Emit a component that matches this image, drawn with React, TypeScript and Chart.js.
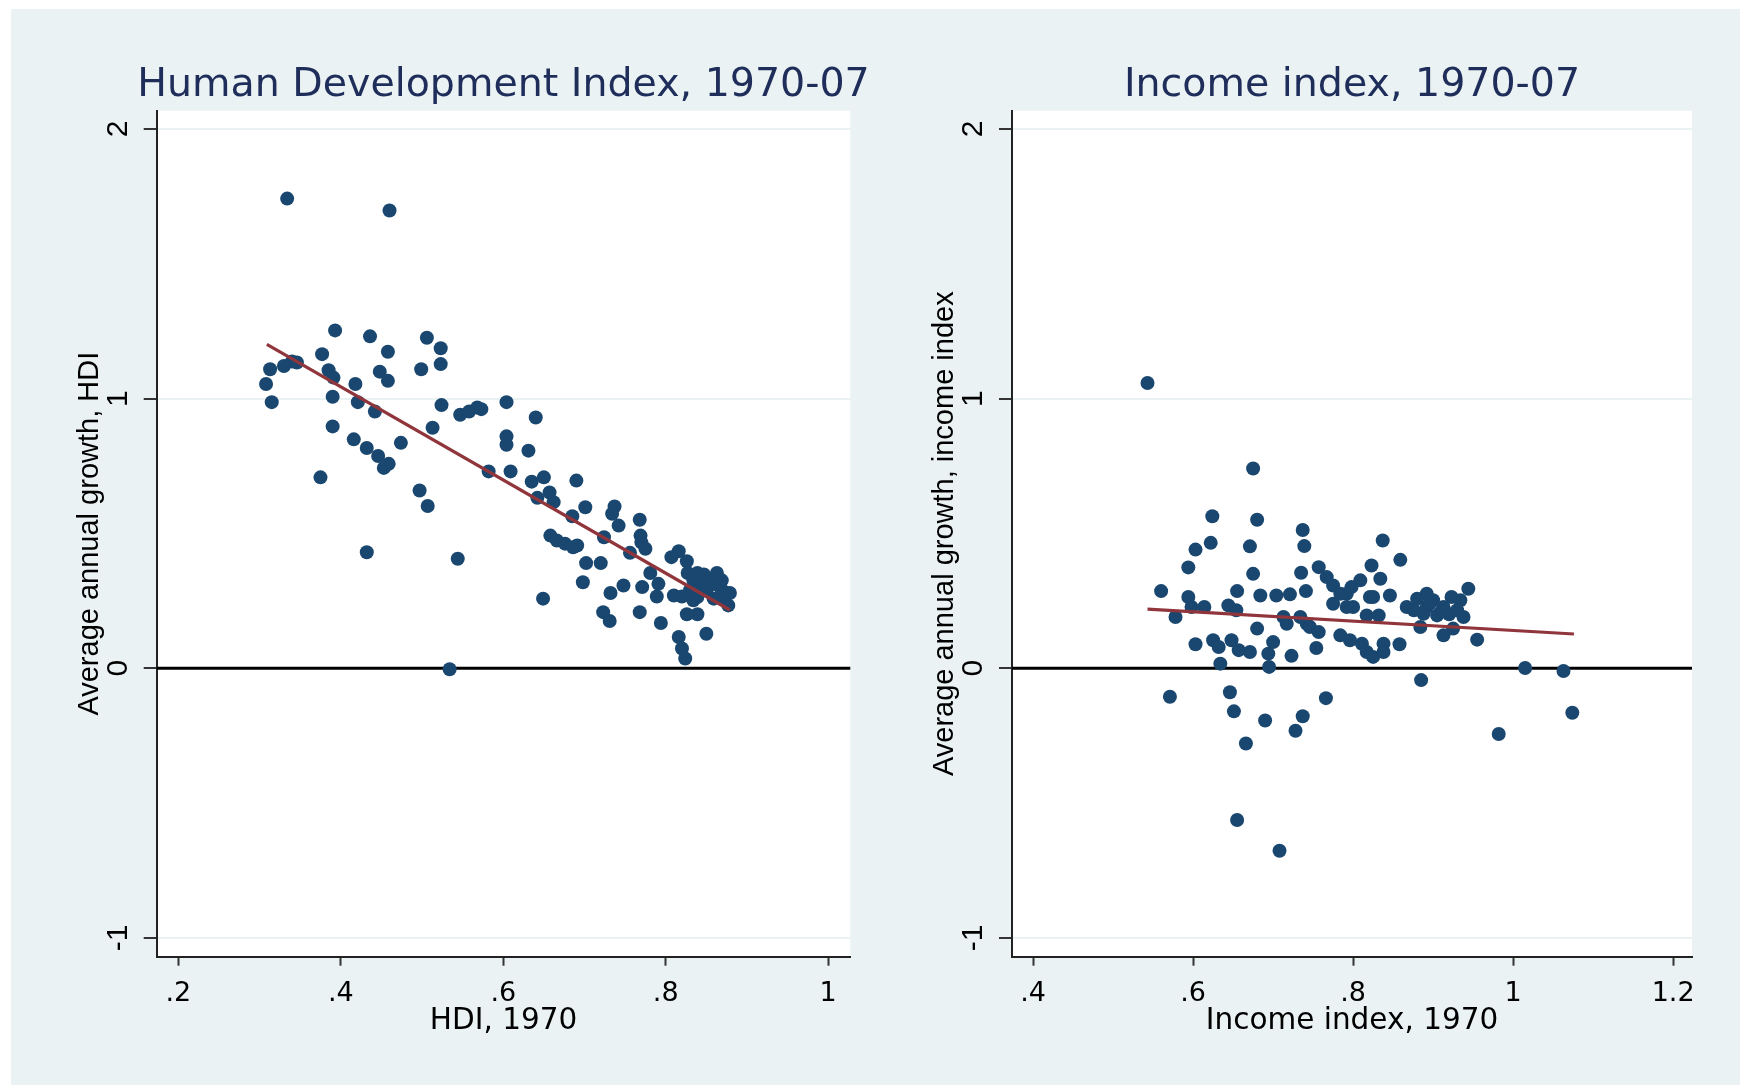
import React, { useEffect, useRef } from "react";
import { Chart, registerables } from "chart.js";

Chart.register(...registerables);

// ---- Left panel: HDI ----
const hdi1970 = [
  0.334, 0.46, 0.393, 0.436, 0.506, 0.523, 0.458, 0.377, 0.313, 0.33, 0.346, 0.34, 0.385, 0.391, 0.448, 0.458,
  0.499, 0.523, 0.308, 0.418, 0.315, 0.39, 0.421, 0.442, 0.524, 0.39, 0.513, 0.416, 0.432, 0.446, 0.459, 0.453,
  0.474, 0.547, 0.558, 0.568, 0.573, 0.604, 0.64, 0.604, 0.604, 0.631, 0.375, 0.497, 0.507, 0.582, 0.609, 0.432,
  0.635, 0.65, 0.69, 0.642, 0.657, 0.662, 0.685, 0.701, 0.658, 0.666, 0.676, 0.686, 0.691, 0.544, 0.534, 0.649,
  0.737, 0.734, 0.742, 0.768, 0.769, 0.77, 0.775, 0.724, 0.702, 0.72, 0.698, 0.756, 0.732, 0.748, 0.771, 0.781,
  0.791, 0.789, 0.723, 0.731, 0.768, 0.794, 0.807, 0.816, 0.826, 0.827, 0.839, 0.847, 0.863, 0.836, 0.851, 0.859,
  0.867, 0.873, 0.879, 0.867, 0.859, 0.877, 0.851, 0.843, 0.81, 0.82, 0.834, 0.826, 0.839, 0.85, 0.816, 0.82,
  0.824, 0.834, 0.83, 0.839, 0.869, 0.834,
];
const hdiGrowth = [
  1.742, 1.698, 1.253, 1.231, 1.226, 1.187, 1.174, 1.165, 1.109, 1.121, 1.134, 1.138, 1.105, 1.078, 1.1, 1.066,
  1.109, 1.128, 1.054, 1.054, 0.987, 1.007, 0.987, 0.952, 0.976, 0.897, 0.892, 0.849, 0.817, 0.787, 0.758, 0.743,
  0.836, 0.94, 0.952, 0.967, 0.961, 0.987, 0.93, 0.86, 0.829, 0.807, 0.708, 0.659, 0.602, 0.73, 0.73, 0.43,
  0.692, 0.708, 0.696, 0.632, 0.652, 0.616, 0.564, 0.597, 0.492, 0.474, 0.462, 0.449, 0.455, 0.406, -0.004, 0.258,
  0.6, 0.573, 0.529, 0.551, 0.492, 0.467, 0.443, 0.486, 0.39, 0.39, 0.319, 0.428, 0.279, 0.307, 0.301, 0.353,
  0.313, 0.266, 0.208, 0.175, 0.208, 0.168, 0.412, 0.434, 0.397, 0.353, 0.353, 0.348, 0.353, 0.313, 0.326, 0.313,
  0.301, 0.282, 0.279, 0.264, 0.258, 0.233, 0.295, 0.289, 0.27, 0.266, 0.258, 0.2, 0.2, 0.128, 0.116, 0.073,
  0.036, 0.326, 0.289, 0.264, 0.326, 0.252,
];
const hdiFitX = [0.309, 0.879];
const hdiFitY = [1.201, 0.216];
const hdiTickValues = [0.2, 0.4, 0.6, 0.8, 1];
const hdiTickLabels = [".2", ".4", ".6", ".8", "1"];

// ---- Right panel: Income index ----
const income1970 = [
  0.543, 0.675, 0.624, 0.68, 0.737, 0.739, 0.837, 0.622, 0.603, 0.671, 0.594, 0.675, 0.735, 0.757, 0.767, 0.775,
  0.784, 0.823, 0.834, 0.809, 0.798, 0.792, 0.859, 0.56, 0.594, 0.598, 0.614, 0.655, 0.644, 0.654, 0.684, 0.704,
  0.721, 0.741, 0.578, 0.775, 0.8, 0.825, 0.846, 0.832, 0.817, 0.68, 0.713, 0.734, 0.717, 0.742, 0.746, 0.757,
  0.792, 0.821, 0.867, 0.88, 0.892, 0.9, 0.913, 0.923, 0.934, 0.944, 0.938, 0.925, 0.913, 0.892, 0.888, 0.905,
  0.884, 0.876, 0.896, 0.91, 0.92, 0.93, 0.955, 0.603, 0.625, 0.632, 0.634, 0.648, 0.657, 0.671, 0.7, 0.694,
  0.695, 0.723, 0.754, 0.784, 0.796, 0.811, 0.817, 0.825, 0.838, 0.838, 0.858, 1.015, 1.063, 0.885, 1.074, 0.982,
  0.571, 0.646, 0.651, 0.69, 0.666, 0.766, 0.737, 0.728, 0.655, 0.708,
];
const incomeGrowth = [
  1.058, 0.741, 0.564, 0.551, 0.513, 0.453, 0.474, 0.465, 0.44, 0.452, 0.374, 0.35, 0.354, 0.375, 0.338, 0.307,
  0.276, 0.381, 0.332, 0.326, 0.301, 0.276, 0.402, 0.286, 0.264, 0.227, 0.227, 0.286, 0.233, 0.215, 0.27, 0.27,
  0.274, 0.286, 0.19, 0.239, 0.227, 0.264, 0.27, 0.196, 0.196, 0.147, 0.19, 0.19, 0.165, 0.165, 0.153, 0.134,
  0.227, 0.264, 0.227, 0.258, 0.276, 0.252, 0.227, 0.264, 0.252, 0.295, 0.19, 0.147, 0.122, 0.227, 0.202, 0.196,
  0.153, 0.215, 0.24, 0.21, 0.2, 0.215, 0.106, 0.089, 0.104, 0.079, 0.017, 0.104, 0.067, 0.06, 0.097, 0.054,
  0.005, 0.046, 0.075, 0.122, 0.104, 0.091, 0.06, 0.042, 0.091, 0.06, 0.089, 0.001, -0.01, -0.044, -0.165, -0.244,
  -0.106, -0.089, -0.16, -0.194, -0.279, -0.111, -0.178, -0.232, -0.563, -0.677,
];
const incomeFitX = [0.543, 1.076];
const incomeFitY = [0.219, 0.127];
const incomeTickValues = [0.4, 0.6, 0.8, 1, 1.2];
const incomeTickLabels = [".4", ".6", ".8", "1", "1.2"];

// ---- Shared y axis ----
const yTickValues = [-1, 0, 1, 2];
const yTickLabels = ["-1", "0", "1", "2"];

const NAVY = "#1A476F";
const MAROON = "#90353B";
const BG = "#EAF2F3";

const plotPlugin = {
  id: "plotBgZero",
  beforeDraw(chart: any) {
    const { ctx, chartArea: a } = chart;
    ctx.save();
    ctx.fillStyle = "#ffffff";
    ctx.fillRect(a.left, a.top, a.right - a.left, a.bottom - a.top);
    ctx.restore();
  },
  beforeDatasetsDraw(chart: any) {
    const { ctx, chartArea: a } = chart;
    const y = chart.scales.y.getPixelForValue(0);
    ctx.save();
    ctx.strokeStyle = "#000000";
    ctx.lineWidth = 3;
    ctx.beginPath();
    ctx.moveTo(a.left, y);
    ctx.lineTo(a.right, y);
    ctx.stroke();
    ctx.restore();
  },
};

type PanelCfg = {
  title: string;
  xTitle: string;
  yTitle: string;
  xs: number[];
  ys: number[];
  fitX: number[];
  fitY: number[];
  xMin: number;
  xMax: number;
  tickValues: number[];
  tickLabels: string[];
  yAxisWidth: number;
  yTitlePad: number;
};

function makePanel(canvas: HTMLCanvasElement, c: PanelCfg) {
  const points = c.xs.map((x, i) => ({ x, y: c.ys[i] }));
  const fit = c.fitX.map((x, i) => ({ x, y: c.fitY[i] }));
  return new Chart(canvas, {
    type: "scatter",
    data: {
      datasets: [
        {
          type: "scatter",
          data: fit,
          showLine: true,
          borderColor: MAROON,
          borderWidth: 3.2,
          pointRadius: 0,
          order: 0,
        } as any,
        {
          type: "scatter",
          data: points,
          backgroundColor: NAVY,
          borderWidth: 0,
          pointRadius: 7,
          pointHoverRadius: 7,
          order: 1,
        } as any,
      ],
    },
    options: {
      responsive: false,
      maintainAspectRatio: false,
      animation: false,
      events: [],
      layout: { padding: 0 },
      plugins: {
        legend: { display: false },
        tooltip: { enabled: false },
        title: {
          display: true,
          text: c.title,
          color: "#1E2D5A",
          fullSize: true,
          font: { family: "'DejaVu Sans', sans-serif", size: 39.5, weight: "normal" },
          padding: { top: 62, bottom: 1.3 },
        },
      },
      scales: {
        x: {
          type: "linear",
          min: c.xMin,
          max: c.xMax,
          afterBuildTicks: (s: any) => {
            s.ticks = c.tickValues.map((v) => ({ value: v }));
          },
          afterFit: (s: any) => {
            s.height = 128.3;
          },
          ticks: {
            autoSkip: false,
            maxRotation: 0,
            minRotation: 0,
            padding: 12,
            color: "#000",
            font: { family: "'DejaVu Sans', sans-serif", size: 27 },
            callback: (_v: any, i: number) => c.tickLabels[i],
          },
          grid: {
            drawOnChartArea: false,
            drawTicks: true,
            tickLength: 9,
            tickWidth: 2,
            tickColor: "#333",
          },
          border: { display: true, color: "#222", width: 2 },
          title: {
            display: true,
            text: c.xTitle,
            color: "#000",
            font: { family: "'DejaVu Sans', sans-serif", size: 29.5 },
            padding: { top: 0, bottom: 46 },
          },
        },
        y: {
          type: "linear",
          position: "left",
          min: -1.07,
          max: 2.068,
          afterBuildTicks: (s: any) => {
            s.ticks = yTickValues.map((v) => ({ value: v }));
          },
          afterFit: (s: any) => {
            s.width = c.yAxisWidth;
          },
          ticks: {
            autoSkip: false,
            minRotation: 90,
            maxRotation: 90,
            crossAlign: "center",
            padding: 12,
            color: "#000",
            font: { family: "'Liberation Sans', Arial, sans-serif", size: 30 },
            callback: (_v: any, i: number) => yTickLabels[i],
          },
          grid: {
            color: BG,
            lineWidth: 2,
            drawTicks: true,
            tickLength: 13,
            tickWidth: 2,
            tickColor: "#333",
          },
          border: { display: true, color: "#222", width: 2 },
          title: {
            display: true,
            text: c.yTitle,
            color: "#000",
            font: { family: "'Liberation Sans', Arial, sans-serif", size: 29 },
            padding: { top: c.yTitlePad, bottom: 0 },
          },
        },
        // empty spacer on the right so the graph title centres over the plot region
        ySpacer: {
          type: "linear",
          position: "right",
          display: true,
          afterFit: (s: any) => {
            s.width = c.yAxisWidth;
          },
          ticks: { display: false },
          grid: { display: false, drawTicks: false },
          border: { display: false },
          title: { display: false },
        },
      },
    } as any,
    plugins: [plotPlugin],
  });
}

export default function App() {
  const leftRef = useRef<HTMLCanvasElement>(null);
  const rightRef = useRef<HTMLCanvasElement>(null);

  useEffect(() => {
    const left = makePanel(leftRef.current!, {
      title: "Human Development Index, 1970-07",
      xTitle: "HDI, 1970",
      yTitle: "Average annual growth, HDI",
      xs: hdi1970,
      ys: hdiGrowth,
      fitX: hdiFitX,
      fitY: hdiFitY,
      xMin: 0.1734,
      xMax: 1.0272,
      tickValues: hdiTickValues,
      tickLabels: hdiTickLabels,
      yAxisWidth: 156.7,
      yTitlePad: 72.6,
    });
    const right = makePanel(rightRef.current!, {
      title: "Income index, 1970-07",
      xTitle: "Income index, 1970",
      yTitle: "Average annual growth, income index",
      xs: income1970,
      ys: incomeGrowth,
      fitX: incomeFitX,
      fitY: incomeFitY,
      xMin: 0.3736,
      xMax: 1.2236,
      tickValues: incomeTickValues,
      tickLabels: incomeTickLabels,
      yAxisWidth: 142,
      yTitlePad: 57.9,
    });
    return () => {
      left.destroy();
      right.destroy();
    };
  }, []);

  return (
    <div
      style={{
        position: "absolute",
        left: 0,
        top: 0,
        width: 1740,
        height: 1085,
        background: "#ffffff",
        overflow: "hidden",
      }}
    >
      <div style={{ position: "absolute", left: 11, top: 9, right: 0, bottom: 0, background: BG }} />
      <canvas
        ref={leftRef}
        width={1007}
        height={1085}
        style={{ position: "absolute", left: 0, top: 0, width: 1007, height: 1085 }}
      />
      <canvas
        ref={rightRef}
        width={964}
        height={1085}
        style={{ position: "absolute", left: 870, top: 0, width: 964, height: 1085 }}
      />
    </div>
  );
}
